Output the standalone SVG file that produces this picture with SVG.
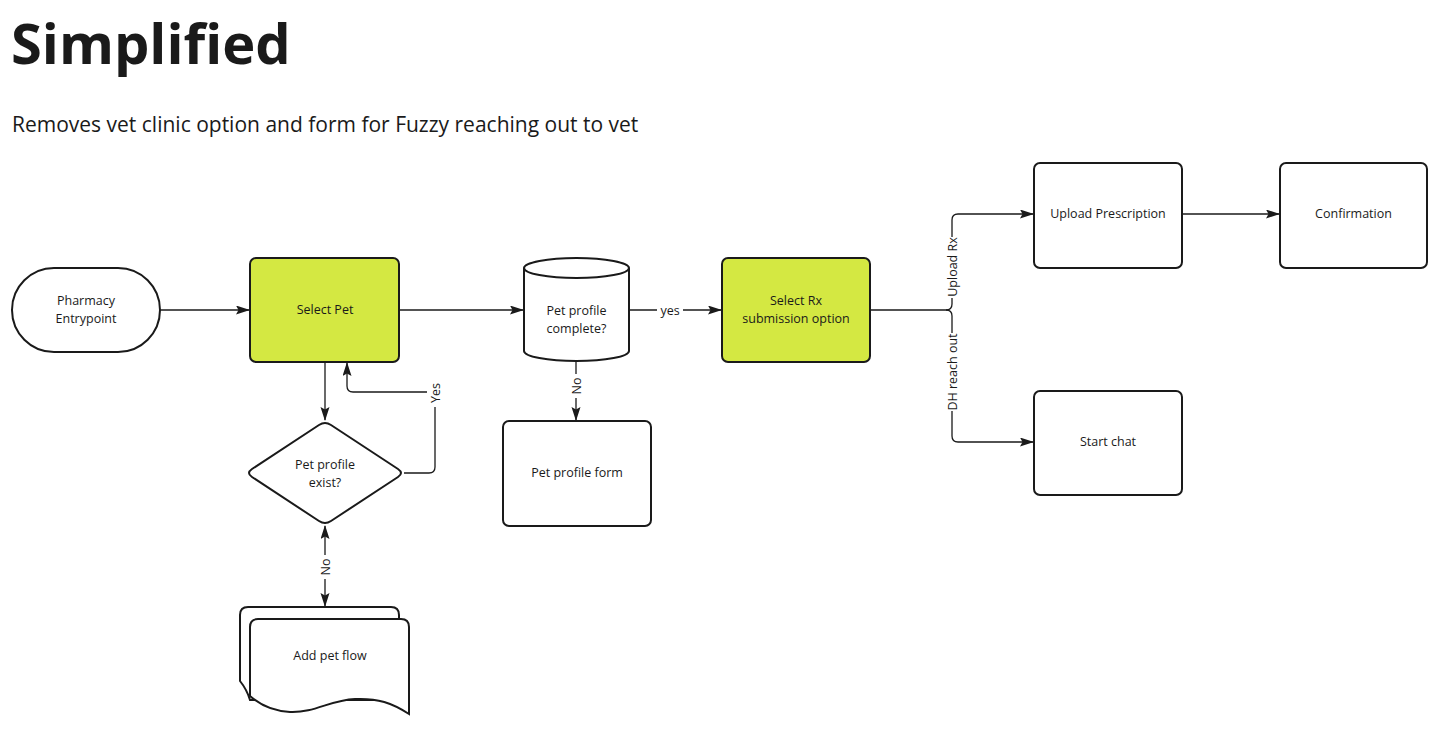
<svg xmlns="http://www.w3.org/2000/svg" width="1440" height="730" viewBox="0 0 1440 730">
<defs>
<style>
.node{fill:#ffffff;stroke:#1a1a1a;stroke-width:2}
.hl{fill:#d4e842}
.t{font-family:"Open Sans","Liberation Sans",sans-serif;font-size:12.5px;fill:#1a1a1a;text-anchor:middle}
.edge{fill:none;stroke:#1a1a1a;stroke-width:1.3}
.lbg{fill:#ffffff}
</style>
<marker id="arr" markerUnits="userSpaceOnUse" markerWidth="14" markerHeight="10" refX="13" refY="4.5" orient="auto-start-reverse">
<path d="M0,0 L14,4.5 L0,9 L2.5,4.5 Z" fill="#1a1a1a"/>
</marker>
</defs>
<rect width="1440" height="730" fill="#ffffff"/>
<text x="11" y="64" font-family="'Open Sans','Liberation Sans',sans-serif" font-weight="bold" font-size="56" fill="#1a1a1a">Simplified</text>
<text x="12" y="132" font-family="'Open Sans','Liberation Sans',sans-serif" font-size="21" fill="#1a1a1a">Removes vet clinic option and form for Fuzzy reaching out to vet</text>

<g id="connectors">
<path class="edge" d="M160,310 H249" marker-end="url(#arr)"/>
<path class="edge" d="M399,310 H523" marker-end="url(#arr)"/>
<path class="edge" d="M629,310 H721" marker-end="url(#arr)"/>
<path class="edge" d="M576,362 V420" marker-end="url(#arr)"/>
<path class="edge" d="M325,362 V420" marker-end="url(#arr)"/>
<path class="edge" d="M404,473 H429 Q435,473 435,467 V398 Q435,392 429,392 H353 Q347,392 347,386 V363" marker-end="url(#arr)"/>
<path class="edge" d="M325,526 V606" marker-start="url(#arr)" marker-end="url(#arr)"/>
<path class="edge" d="M870,310 H946 Q952,310 952,304 V220 Q952,214 958,214 H1033" marker-end="url(#arr)"/>
<path class="edge" d="M946,310 Q952,310 952,316 V436 Q952,442 958,442 H1033" marker-end="url(#arr)"/>
<path class="edge" d="M1182,214 H1279" marker-end="url(#arr)"/>
<rect class="lbg" x="657" y="302" width="26" height="16"/>
<text class="t" x="670" y="314.5">yes</text>
<rect class="lbg" x="568" y="374" width="16" height="24"/>
<text class="t" transform="translate(580.5,386) rotate(-90)" x="0" y="0">No</text>
<rect class="lbg" x="317" y="555" width="16" height="24"/>
<text class="t" transform="translate(329.5,567) rotate(-90)" x="0" y="0">No</text>
<rect class="lbg" x="427" y="380" width="16" height="27"/>
<text class="t" transform="translate(439.5,393) rotate(-90)" x="0" y="0">Yes</text>
<rect class="lbg" x="944" y="237" width="16" height="61"/>
<text class="t" transform="translate(956.5,267) rotate(-90)" x="0" y="0">Upload Rx</text>
<rect class="lbg" x="944" y="333" width="16" height="78"/>
<text class="t" transform="translate(956.5,372) rotate(-90)" x="0" y="0">DH reach out</text>
</g>

<g id="pharmacy-entrypoint">
<rect class="node" x="12" y="268" width="148" height="84" rx="42" ry="42"/>
<text class="t" x="86" y="305">Pharmacy</text>
<text class="t" x="86" y="323">Entrypoint</text>
</g>
<g id="select-pet">
<rect class="node hl" x="250" y="258" width="149" height="104" rx="6"/>
<text class="t" x="325" y="314">Select Pet</text>
</g>
<g id="pet-profile-exist">
<path class="node" d="M319,425 Q325,421 331,425 L398,469 Q404,473 398,477 L331,521 Q325,525 319,521 L252,477 Q246,473 252,469 Z"/>
<text class="t" x="325" y="469">Pet profile</text>
<text class="t" x="325" y="487">exist?</text>
</g>
<g id="add-pet-flow">
<path class="node" d="M240,681 V615 Q240,607 248,607 H391 Q399,607 399,615 V700 L250,700 C247,690 244,686 240,681 Z"/>
<path class="node" d="M250,627 Q250,619 258,619 H401 Q409,619 409,627 V714 C392,703 378,698 355,699 C330,700 315,713 290,712 C272,711 260,705 250,696 Z"/>
<text class="t" x="330" y="660">Add pet flow</text>
</g>
<g id="pet-profile-complete">
<path class="node" d="M524,268 V351 A52.5,10 0 0 0 629,351 V268 A52.5,10 0 0 0 524,268 Z"/>
<path class="node" style="fill:none" d="M524,268 A52.5,10 0 0 0 629,268"/>
<text class="t" x="576.5" y="315">Pet profile</text>
<text class="t" x="576.5" y="333">complete?</text>
</g>
<g id="pet-profile-form">
<rect class="node" x="503" y="421" width="148" height="105" rx="6"/>
<text class="t" x="577" y="477">Pet profile form</text>
</g>
<g id="select-rx">
<rect class="node hl" x="722" y="258" width="148" height="104" rx="6"/>
<text class="t" x="796" y="305">Select Rx</text>
<text class="t" x="796" y="323">submission option</text>
</g>
<g id="upload-prescription">
<rect class="node" x="1034" y="163" width="148" height="105" rx="6"/>
<text class="t" x="1108" y="218">Upload Prescription</text>
</g>
<g id="confirmation">
<rect class="node" x="1280" y="163" width="147" height="105" rx="6"/>
<text class="t" x="1353.5" y="218">Confirmation</text>
</g>
<g id="start-chat">
<rect class="node" x="1034" y="391" width="148" height="104" rx="6"/>
<text class="t" x="1108" y="446">Start chat</text>
</g>
</svg>
